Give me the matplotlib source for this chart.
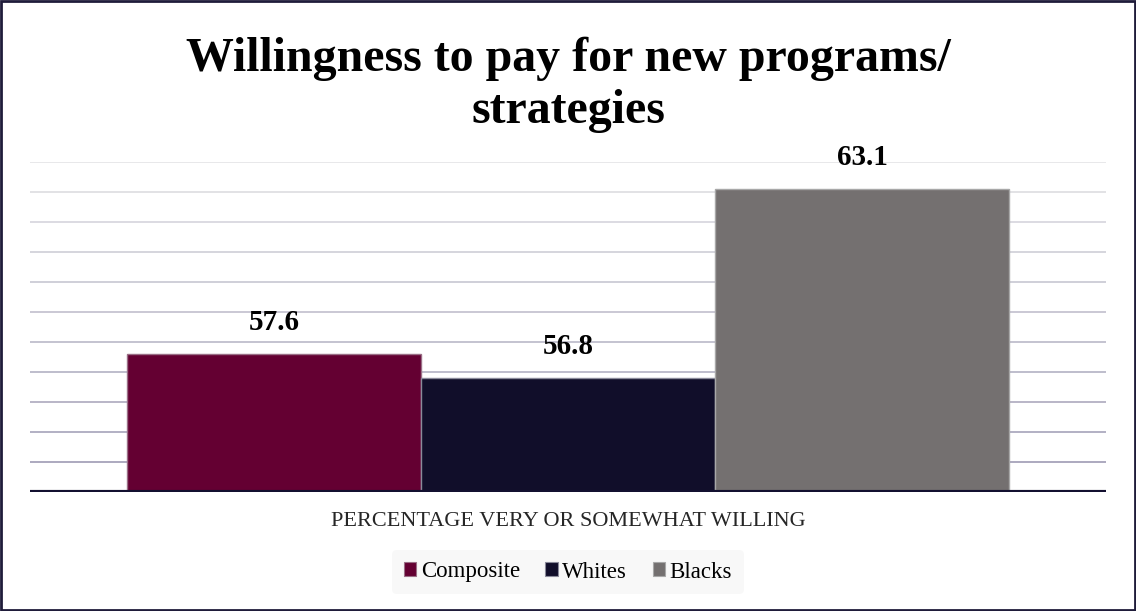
import matplotlib
matplotlib.use("Agg")
import matplotlib.pyplot as plt
import numpy as np
from matplotlib.patches import Rectangle

# Data
series = ["Composite", "Whites", "Blacks"]
values = [57.6, 56.8, 63.1]
colors = ["#640032", "#110e2a", "#747070"]
category_label = "PERCENTAGE VERY OR SOMEWHAT WILLING"
title_lines = ["Willingness to pay for new programs/", "strategies"]

plt.rcParams["font.family"] = ["Liberation Serif", "DejaVu Serif"]

fig = plt.figure(figsize=(11.36, 6.11), dpi=100)
ax = fig.add_axes([30 / 1136, 1 - 492 / 611, 1076 / 1136, 330 / 611])

ymin, ymax = 53, 64
ax.set_ylim(ymin, ymax)
ax.set_xlim(-0.5, 0.5)

# Horizontal gridlines, fading toward the top
ticks = np.arange(ymin + 1, ymax + 1)
for i, t in enumerate(ticks):
    frac = i / (len(ticks) - 1)
    c0 = np.array([0.65, 0.64, 0.73])
    c1 = np.array([0.90, 0.90, 0.91])
    ax.axhline(t, color=c0 + (c1 - c0) * frac, lw=1.3, zorder=0)

width = 294 / 1076
offsets = (np.arange(len(series)) - 1) * width
edge = ["#9a6f86", "#8a8a9a", "#a8a8a8"]
for off, v, c, e, name in zip(offsets, values, colors, edge, series):
    ax.bar(off, v - ymin, bottom=ymin, width=width, color=c, edgecolor=e,
           linewidth=1.0, label=name, zorder=2)
    ax.text(off, v + 0.6, f"{v:.1f}", ha="center", va="bottom",
            fontsize=21, fontweight="bold", color="#000000", zorder=3)

# Baseline
ax.axhline(ymin, color="#131030", lw=3, zorder=4)

for s in ax.spines.values():
    s.set_visible(False)
ax.set_xticks([])
ax.set_yticks([])
ax.patch.set_alpha(0)

# Two-line title, each line placed on its own baseline
for line, base_px in zip(title_lines, [71, 123]):
    fig.text(0.5, 1 - base_px / 611, line, ha="center", va="baseline",
             fontsize=34.5, fontweight="bold")

fig.text(0.5, 1 - 521 / 611, category_label, ha="center", va="center",
         fontsize=16, color="#262626")

leg = fig.legend(loc="center", bbox_to_anchor=(0.5, 1 - 572 / 611), ncol=3,
                 frameon=True, fontsize=16.5, handlelength=0.55, handleheight=0.55,
                 handletextpad=0.2, columnspacing=1.1, borderpad=0.5)
leg.get_frame().set_facecolor("#f8f8f8")
leg.get_frame().set_edgecolor("none")
leg.get_frame().set_alpha(1)
for h, e in zip(leg.legend_handles, edge):
    h.set_edgecolor(e)
    h.set_linewidth(0.8)

# Outer border
fig.patches.append(Rectangle((0.001, 0.001), 0.998, 0.998, transform=fig.transFigure,
                             fill=False, edgecolor="#1f1c3a", lw=2))

fig.savefig("out.png", dpi=100, facecolor="white")
